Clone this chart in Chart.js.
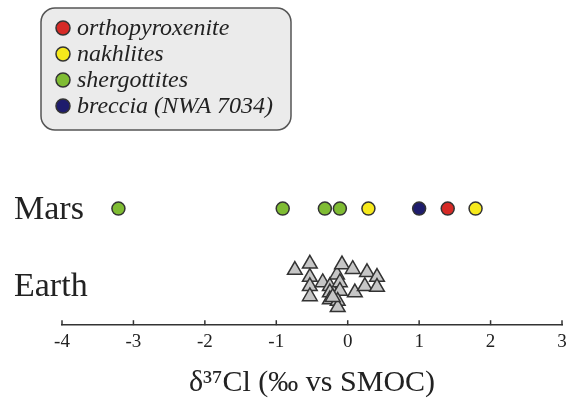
<!DOCTYPE html>
<html>
<head>
<meta charset="utf-8">
<script src="https://cdn.jsdelivr.net/npm/chart.js@4/dist/chart.umd.min.js"></script>
<style>
  html, body { margin: 0; padding: 0; background: #fff; }
  #wrap { width: 573px; height: 402px; }
</style>
</head>
<body>
<div id="wrap"><canvas id="myChart" width="573" height="402"></canvas></div>
<script>
// rows on the y axis
var rowNames = ['Earth', 'Mars'];
var rowValues = [1, 2];

// x ticks
var xTicks = [-4, -3, -2, -1, 0, 1, 2, 3];

// Mars samples, delta37Cl
var orthopyroxenite = [1.40];
var nakhlites = [0.29, 1.79];
var shergottites = [-3.21, -0.91, -0.32, -0.11];
var breccia = [1.00];

// Earth samples: delta37Cl and vertical jitter around the Earth row
var earthX = [-0.74, -0.53, -0.53, -0.53, -0.53, -0.35, -0.25, -0.25, -0.25, -0.15, -0.08,
              0.07, 0.27, 0.41, -0.11, -0.11, 0.10, 0.24, 0.41, -0.14, -0.14, -0.21];
var earthJitter = [0.21, 0.29, 0.12, 0.00, -0.13, 0.05, 0.00, -0.08, -0.17, 0.15, 0.28,
                   0.22, 0.18, 0.12, 0.05, -0.06, -0.08, 0.00, -0.01, -0.19, -0.27, -0.14];

var serif = '"Liberation Serif", "DejaVu Serif", serif';

function marsPoints(arr) {
    return arr.map(function (v) { return { x: v, y: rowValues[1] }; });
}

var earthPoints = earthX.map(function (v, i) {
    return { x: v, y: rowValues[0] + earthJitter[i] };
});

var dataSource = {
    datasets: [
        { label: 'orthopyroxenite', data: marsPoints(orthopyroxenite), backgroundColor: '#d62a26' },
        { label: 'nakhlites', data: marsPoints(nakhlites), backgroundColor: '#f6e91c' },
        { label: 'shergottites', data: marsPoints(shergottites), backgroundColor: '#7fbc33' },
        { label: 'breccia (NWA 7034)', data: marsPoints(breccia), backgroundColor: '#1e1c6c' },
        { label: 'Earth', data: earthPoints, backgroundColor: '#c6c6c6', pointStyle: 'triangle',
          pointRadius: 8.5, borderWidth: 1.5, order: 10 }
    ]
};
dataSource.datasets.forEach(function (d) {
    if (!d.pointRadius) { d.pointRadius = 6.5; d.borderWidth = 1.5; }
    d.borderColor = '#333';
});

// legend box, row labels and inward x ticks
var extras = {
    id: 'extras',
    afterDraw: function (chart) {
        var ctx = chart.ctx;
        var xs = chart.scales.x, ys = chart.scales.y;
        ctx.save();

        // ticks pointing up
        ctx.strokeStyle = '#333';
        ctx.lineWidth = 1.5;
        xTicks.forEach(function (t) {
            var px = xs.getPixelForValue(t);
            ctx.beginPath();
            ctx.moveTo(px, chart.chartArea.bottom);
            ctx.lineTo(px, chart.chartArea.bottom - 5);
            ctx.stroke();
        });

        // row labels
        ctx.fillStyle = '#222';
        ctx.font = '34px ' + serif;
        ctx.textBaseline = 'middle';
        ctx.textAlign = 'left';
        rowNames.forEach(function (name, i) {
            ctx.fillText(name, 14, ys.getPixelForValue(rowValues[i]) + 1);
        });

        // legend
        ctx.beginPath();
        ctx.roundRect(41, 8, 250, 122, 14);
        ctx.fillStyle = '#ebebeb';
        ctx.fill();
        ctx.strokeStyle = '#555';
        ctx.lineWidth = 1.5;
        ctx.stroke();
        ctx.font = 'italic 24px ' + serif;
        for (var i = 0; i < 4; i++) {
            var d = chart.data.datasets[i];
            var cy = 28 + i * 26;
            ctx.beginPath();
            ctx.arc(63, cy, 7, 0, Math.PI * 2);
            ctx.fillStyle = d.backgroundColor;
            ctx.fill();
            ctx.strokeStyle = '#333';
            ctx.stroke();
            ctx.fillStyle = '#222';
            ctx.fillText(d.label, 77, cy + 1);
        }
        ctx.restore();
    }
};

new Chart(document.getElementById('myChart').getContext('2d'), {
    type: 'scatter',
    data: dataSource,
    plugins: [extras],
    options: {
        responsive: false,
        animation: false,
        layout: { padding: { left: 62, right: 11, top: 92, bottom: 1 } },
        plugins: { legend: { display: false }, tooltip: { enabled: false } },
        scales: {
            x: {
                min: -4, max: 3,
                afterBuildTicks: function (s) { s.ticks = xTicks.map(function (v) { return { value: v }; }); },
                grid: { drawOnChartArea: false, drawTicks: false },
                border: { display: true, color: '#333', width: 1.5 },
                ticks: { padding: 5, color: '#222', font: { family: serif, size: 19 } },
                title: {
                    display: true,
                    text: 'δ³⁷Cl (‰ vs SMOC)',
                    color: '#222',
                    padding: { top: 7, bottom: 0 },
                    font: { family: serif, size: 30 }
                }
            },
            y: { display: false, min: 0.5, max: 3.5 }
        }
    }
});
</script>
</body>
</html>
